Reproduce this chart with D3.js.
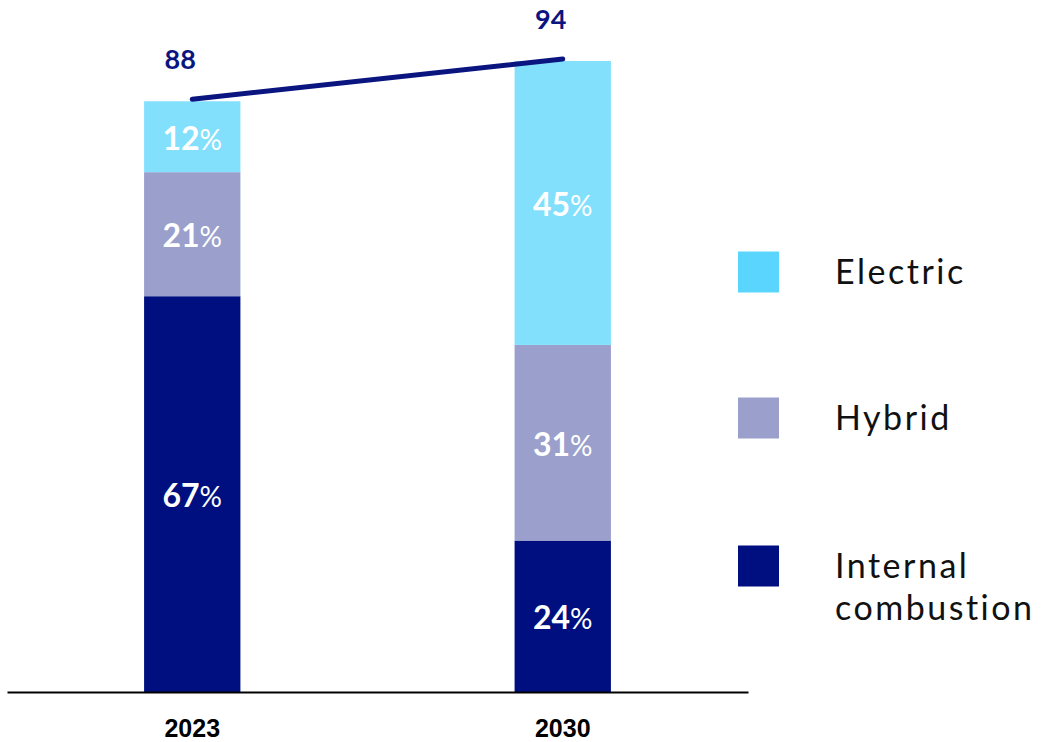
<!DOCTYPE html>
<html>
<head>
<meta charset="utf-8">
<script src="https://cdn.jsdelivr.net/npm/d3@7"></script>
<style>
  body { margin: 0; background: #fff; }
  svg { display: block; }
</style>
</head>
<body>
<svg id="chart" width="1043" height="742"></svg>
<script>
// chart data
var years = ["2023", "2030"];
var totals = [88, 94];
var seriesNames = ["Internal combustion", "Hybrid", "Electric"];
var iceShare = [67, 24];
var hybridShare = [21, 31];
var electricShare = [12, 45];

var barColors = ["#000f80", "#9a9fcc", "#83e0fd"];
var legendColors = ["#000f80", "#9a9fcc", "#5ad5fd"];
var navy = "#0a1580";

var svg = d3.select("#chart");
var baseY = 692;

// build rows for the stack
var rows = years.map(function (y, i) {
    return {
        year: y,
        total: totals[i],
        "Internal combustion": iceShare[i] * totals[i] / 100,
        "Hybrid": hybridShare[i] * totals[i] / 100,
        "Electric": electricShare[i] * totals[i] / 100,
        shares: [iceShare[i], hybridShare[i], electricShare[i]]
    };
});

var x = d3.scaleBand()
    .domain(years)
    .range([7, 748])
    .paddingInner(0.74)
    .paddingOuter(0.37);

var y = d3.scaleLinear()
    .domain([0, 94])
    .range([baseY, 61]);

var stacked = d3.stack().keys(seriesNames)(rows);

var layers = svg.selectAll("g.layer")
    .data(stacked)
    .enter().append("g")
    .attr("class", "layer")
    .attr("fill", function (d, i) { return barColors[i]; });

layers.selectAll("rect")
    .data(function (d) { return d; })
    .enter().append("rect")
    .attr("x", function (d) { return x(d.data.year); })
    .attr("y", function (d) { return y(d[1]); })
    .attr("width", x.bandwidth())
    .attr("height", function (d) { return y(d[0]) - y(d[1]); });

// percentage labels inside segments
stacked.forEach(function (layer, li) {
    layer.forEach(function (d) {
        var t = svg.append("text")
            .attr("x", x(d.data.year) + x.bandwidth() / 2)
            .attr("y", (y(d[0]) + y(d[1])) / 2 + 13)
            .attr("text-anchor", "middle")
            .attr("fill", "#fff")
            .style("font-family", "Lato, 'Noto Sans', sans-serif");
        t.append("tspan")
            .style("font-size", "32px")
            .style("font-weight", "bold")
            .text(d.data.shares[li]);
        t.append("tspan")
            .style("font-size", "28px")
            .style("font-weight", "normal")
            .text("%");
    });
});

// total line on top
var lineGen = d3.line()
    .x(function (d) { return x(d.year) + x.bandwidth() / 2; })
    .y(function (d) { return y(d.total) - 2; });

svg.append("path")
    .datum(rows)
    .attr("d", lineGen)
    .attr("fill", "none")
    .attr("stroke", navy)
    .attr("stroke-width", 5)
    .attr("stroke-linecap", "round");

svg.selectAll("text.total")
    .data(rows)
    .enter().append("text")
    .attr("class", "total")
    .attr("x", function (d) { return x(d.year) + x.bandwidth() / 2 - 12; })
    .attr("y", function (d) { return y(d.total) - 32; })
    .attr("text-anchor", "middle")
    .attr("fill", navy)
    .style("font-family", "Lato, 'Noto Sans', sans-serif")
    .style("font-size", "27px")
    .style("font-weight", "bold")
    .text(function (d) { return d.total; });

// x axis
var xAxis = d3.axisBottom(x).tickSize(0).tickPadding(27);
var gx = svg.append("g")
    .attr("transform", "translate(0," + baseY + ")")
    .call(xAxis);
gx.select(".domain").attr("stroke", "#000").attr("stroke-width", 2);
gx.selectAll("text")
    .attr("fill", "#000")
    .style("font-family", "'Liberation Sans', Arial, sans-serif")
    .style("font-size", "25px")
    .style("font-weight", "bold");

// legend (top to bottom: Electric, Hybrid, Internal combustion)
var legendItems = [
    { name: ["Electric"], color: legendColors[2], cy: 272 },
    { name: ["Hybrid"], color: legendColors[1], cy: 418 },
    { name: ["Internal", "combustion"], color: legendColors[0], cy: 566 }
];

var lg = svg.selectAll("g.legend")
    .data(legendItems)
    .enter().append("g")
    .attr("class", "legend");

lg.append("rect")
    .attr("x", 738)
    .attr("y", function (d) { return d.cy - 20.5; })
    .attr("width", 41)
    .attr("height", 41)
    .attr("fill", function (d) { return d.color; });

lg.append("text")
    .attr("y", function (d) { return d.cy + 12; })
    .attr("fill", "#111")
    .style("font-family", "Lato, 'Noto Sans', sans-serif")
    .style("font-size", "34px")
    .style("letter-spacing", "2.5px")
    .selectAll("tspan")
    .data(function (d) { return d.name; })
    .enter().append("tspan")
    .attr("x", 835)
    .attr("dy", function (d, i) { return i === 0 ? 0 : 42; })
    .text(function (d) { return d; });
</script>
</body>
</html>
